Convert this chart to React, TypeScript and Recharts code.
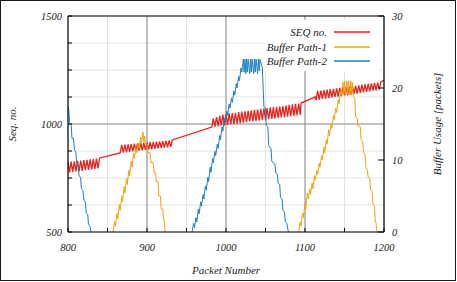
import React from "react";
import { LineChart, Line, XAxis, YAxis, CartesianGrid, Legend } from "recharts";

// packet number -> sequence number
const seqBand1 = [
  [800, 824], [802, 776], [804, 826], [806, 778], [808, 827], [810, 780], [812, 829],
  [814, 781], [816, 831], [818, 783], [820, 833], [822, 786], [824, 834], [826, 788],
  [828, 836], [830, 790], [832, 838], [834, 792], [836, 840], [838, 795], [840, 843],
];
const seqBand2 = [
  [866, 866], [868, 903], [870, 868], [872, 904], [874, 869], [876, 906], [878, 871],
  [880, 907], [882, 873], [884, 909], [886, 875], [888, 910], [890, 877], [892, 911],
  [894, 878], [896, 913], [898, 880], [900, 914], [902, 882], [904, 916], [906, 884],
  [908, 917], [910, 885], [912, 918], [914, 887], [916, 920], [918, 889], [920, 921],
  [922, 891], [924, 923], [926, 892], [928, 924], [930, 894], [932, 926],
];
const seqBand3 = [
  [982, 986], [984, 1025], [986, 988], [988, 1032], [990, 990], [992, 1038], [994, 992],
  [996, 1043], [998, 994], [1000, 1047], [1002, 996], [1004, 1049], [1006, 998],
  [1008, 1051], [1010, 1000], [1012, 1052], [1014, 1002], [1016, 1055], [1018, 1004],
  [1020, 1057], [1022, 1006], [1024, 1059], [1026, 1008], [1028, 1061], [1030, 1012],
  [1032, 1063], [1034, 1012], [1036, 1065], [1038, 1014], [1040, 1067], [1042, 1016],
  [1044, 1070], [1046, 1018], [1048, 1072], [1050, 1020], [1052, 1074], [1054, 1022],
  [1056, 1077], [1058, 1024], [1060, 1078], [1062, 1025], [1064, 1080], [1066, 1028],
  [1068, 1082], [1070, 1030], [1072, 1083], [1074, 1032], [1076, 1086], [1078, 1034],
  [1080, 1089], [1082, 1036], [1084, 1091], [1086, 1038], [1088, 1093], [1090, 1040],
  [1092, 1095], [1094, 1042], [1095, 1097],
];
const seqBand4 = [
  [1113, 1125], [1114, 1111], [1116, 1153], [1118, 1113], [1120, 1155], [1122, 1116],
  [1124, 1157], [1126, 1118], [1128, 1159], [1130, 1120], [1132, 1161], [1134, 1123],
  [1136, 1163], [1138, 1125], [1140, 1165], [1142, 1127], [1144, 1167], [1146, 1129],
  [1148, 1169], [1150, 1132], [1152, 1171], [1154, 1134], [1156, 1173], [1158, 1136],
  [1160, 1175], [1162, 1139], [1164, 1177], [1166, 1141], [1168, 1179], [1170, 1144],
  [1172, 1182], [1174, 1146], [1176, 1184], [1178, 1149], [1180, 1186], [1182, 1151],
  [1184, 1188], [1186, 1154], [1188, 1190], [1190, 1156], [1192, 1192], [1194, 1159],
  [1196, 1194], [1200, 1204],
];

// packet number -> buffer occupancy (packets)
const path1First = [
  [857, 0], [859, 1.5], [860, 0.8], [862, 2.6], [863, 1.8], [865, 3.8], [866, 3.0],
  [868, 5.0], [869, 4.2], [871, 6.3], [872, 5.4], [874, 7.4], [875, 6.6], [877, 8.6],
  [878, 7.8], [880, 9.8], [881, 9.0], [883, 10.9], [884, 10.2], [886, 11.7], [887, 11.0],
  [889, 12.3], [890, 11.6], [892, 13.2], [893, 12.4], [895, 13.9], [896, 12.5],
  [897, 13.3], [898, 12.2], [900, 12.2], [901, 11.0], [904, 11.0], [905, 9.6], [908, 9.6],
  [909, 8.2], [911, 8.2], [912, 7.0], [914, 7.0], [915, 5.0], [917, 5.0], [918, 3.2],
  [920, 3.2], [921, 1.6], [922, 1.6], [923, 0],
];
const path1Second = [
  [1092, 0], [1094, 1.4], [1095, 0.8], [1097, 2.6], [1098, 2.0], [1100, 4.0], [1101, 3.2],
  [1103, 5.4], [1104, 4.6], [1106, 6.0], [1107, 5.2], [1109, 6.8], [1110, 6.0],
  [1112, 7.8], [1113, 7.2], [1115, 8.6], [1116, 8.0], [1118, 9.6], [1119, 9.0],
  [1121, 10.6], [1122, 10.0], [1124, 11.8], [1125, 11.0], [1127, 12.8], [1128, 12.2],
  [1130, 14.2], [1131, 13.4], [1133, 15.0], [1134, 14.4], [1136, 16.2], [1137, 15.6],
  [1139, 17.2], [1140, 16.6], [1142, 18.4], [1143, 17.8], [1145, 19.6], [1146, 19.0],
  [1148, 20.8], [1149, 19.2], [1150, 21.0], [1151, 19.0], [1153, 21.0], [1154, 19.2],
  [1155, 21.0], [1157, 19.0], [1158, 21.0], [1159, 19.4], [1160, 20.8], [1161, 18.8],
  [1163, 18.6], [1164, 16.0], [1166, 15.8], [1167, 14.8], [1170, 14.6], [1171, 12.8],
  [1173, 12.6], [1174, 11.0], [1176, 10.8], [1177, 9.0], [1179, 8.6], [1180, 7.6],
  [1182, 7.4], [1183, 5.8], [1185, 5.6], [1186, 3.8], [1188, 3.6], [1189, 1.4],
  [1190, 1.2], [1191, 0],
];
const path2First = [
  [800, 17.5], [801, 17.0], [802, 15.2], [804, 15.0], [805, 13.0], [807, 13.0],
  [808, 11.5], [810, 11.0], [811, 9.5], [813, 9.2], [814, 7.8], [816, 7.6], [817, 6.0],
  [819, 5.8], [820, 4.4], [822, 4.2], [823, 2.6], [825, 2.4], [826, 1.0], [828, 0.8],
  [829, 0],
];
const path2Second = [
  [957, 0], [959, 1.2], [960, 0.6], [962, 2.0], [963, 1.4], [965, 3.2], [966, 2.5],
  [968, 4.2], [969, 3.6], [971, 5.2], [972, 4.6], [974, 6.4], [975, 5.8], [977, 7.6],
  [978, 7.0], [980, 9.0], [981, 8.3], [983, 10.2], [984, 9.6], [986, 11.2], [987, 10.6],
  [989, 12.2], [990, 11.6], [992, 13.4], [993, 12.8], [995, 14.6], [996, 14.0],
  [998, 15.8], [999, 15.2], [1001, 16.8], [1002, 16.2], [1004, 17.8], [1005, 17.2],
  [1007, 18.6], [1008, 18.0], [1010, 19.6], [1011, 19.0], [1013, 20.6], [1014, 20.0],
  [1016, 21.6], [1017, 21.0], [1019, 22.8], [1020, 22.2], [1022, 24.0], [1023, 22.2],
  [1024, 24.0], [1025, 22.0], [1026, 24.0], [1027, 22.2], [1028, 24.0], [1030, 22.0],
  [1031, 24.0], [1032, 22.2], [1033, 24.0], [1035, 22.0], [1036, 24.0], [1037, 22.2],
  [1038, 24.0], [1040, 22.0], [1041, 24.0], [1042, 22.4], [1043, 24.0], [1045, 23.2],
  [1046, 22.8], [1048, 17.4], [1050, 17.2], [1051, 14.8], [1053, 14.6], [1054, 12.0],
  [1057, 11.6], [1058, 9.8], [1062, 9.4], [1063, 8.2], [1065, 8.0], [1066, 6.8],
  [1068, 6.6], [1069, 4.8], [1071, 4.6], [1072, 3.0], [1074, 2.8], [1075, 1.4],
  [1077, 1.2], [1079, 0],
];

const seriesNames = ["SEQ no.", "Buffer Path-1", "Buffer Path-2"];
const xTicks = [
  800, 825, 850, 875, 900, 925, 950, 975, 1000, 1025, 1050, 1075, 1100, 1125, 1150, 1175, 1200,
];
const xLabels = [800, 900, 1000, 1100, 1200];
const seqTicks = [500, 625, 750, 875, 1000, 1125, 1250, 1375, 1500];
const seqLabels = [500, 1000, 1500];
const bufTicks = [0, 10, 20, 30];

const toRows = (pts: number[][]) => pts.map(([p, v]) => ({ p, v }));
const seqData = toRows([...seqBand1, ...seqBand2, ...seqBand3, ...seqBand4]);
const path1Data = [...toRows(path1First), { p: 1000, v: null }, ...toRows(path1Second)];
const path2Data = [...toRows(path2First), { p: 900, v: null }, ...toRows(path2Second)];

const FONT = "'Liberation Serif', 'DejaVu Serif', serif";
const txt = { fontFamily: FONT, fontStyle: "italic", fontSize: 10.5, fill: "#222" };

const XTick = (props: any) => {
  const { x, y, payload } = props;
  if (!xLabels.includes(payload.value)) return null;
  return (
    <text x={x} y={y} textAnchor="middle" dominantBaseline="central" style={txt}>
      {payload.value}
    </text>
  );
};

const SeqTick = (props: any) => {
  const { x, y, payload } = props;
  if (!seqLabels.includes(payload.value)) return null;
  return (
    <text x={x} y={y} textAnchor="end" dominantBaseline="central" style={txt}>
      {payload.value}
    </text>
  );
};

const BufTick = (props: any) => {
  const { x, y, payload } = props;
  return (
    <text x={x} y={y} textAnchor="start" dominantBaseline="central" style={txt}>
      {payload.value}
    </text>
  );
};

const titleStyle = { fontFamily: FONT, fontStyle: "italic", fontSize: 11, fill: "#222" };

const XTitle = (props: any) => {
  const vb = props.viewBox || {};
  const cx = vb.x + vb.width / 2;
  const cy = vb.y + 38;
  return (
    <text x={cx} y={cy} textAnchor="middle" dominantBaseline="central" style={titleStyle}>
      Packet Number
    </text>
  );
};

const makeYTitle = (label: string, dx: number) => (props: any) => {
  const vb = props.viewBox || {};
  const cx = vb.x + dx;
  const cy = vb.y + vb.height / 2;
  return (
    <text
      x={cx}
      y={cy}
      transform={`rotate(-90 ${cx} ${cy})`}
      textAnchor="middle"
      dominantBaseline="central"
      style={titleStyle}
    >
      {label}
    </text>
  );
};

const LegendBox = (props: any) => {
  const items = [...(props.payload || [])].sort(
    (a: any, b: any) => seriesNames.indexOf(a.value) - seriesNames.indexOf(b.value)
  );
  return (
    <div
      style={{
        background: "#fff",
        width: 115,
        padding: "5px 0 2px 0",
        fontFamily: FONT,
        fontStyle: "italic",
        fontSize: 11,
        color: "#222",
      }}
    >
      {items.map((it: any) => (
        <div key={it.value} style={{ display: "flex", alignItems: "center", height: 14.5 }}>
          <span style={{ width: 63, textAlign: "right", whiteSpace: "nowrap" }}>{it.value}</span>
          <svg width={36} height={4} style={{ marginLeft: 7 }}>
            <line x1={0} y1={2} x2={36} y2={2} stroke={it.color} strokeWidth={1.5} />
          </svg>
        </div>
      ))}
    </div>
  );
};

export default function App() {
  return (
    <div style={{ position: "fixed", left: 0, top: 0, width: 457, height: 282, background: "#fff" }}>
      <LineChart width={457} height={282} margin={{ top: 15, right: 0, bottom: 0, left: 0 }}>
        <CartesianGrid xAxisId="bottom" yAxisId="seq" stroke="#e3e3e3" />
        <CartesianGrid
          xAxisId="bottom"
          yAxisId="seq"
          stroke="#8e8e8e"
          verticalValues={[900, 1000, 1100]}
          horizontalValues={[1000]}
        />
        <XAxis
          xAxisId="bottom"
          dataKey="p"
          type="number"
          domain={[800, 1200]}
          ticks={xTicks}
          allowDataOverflow
          height={50}
          tickSize={-4}
          tickMargin={19}
          tick={XTick}
          axisLine={{ stroke: "#000", strokeWidth: 1.2 }}
          tickLine={{ stroke: "#000" }}
          label={{ content: XTitle }}
        />
        <XAxis
          xAxisId="top"
          orientation="top"
          dataKey="p"
          type="number"
          domain={[800, 1200]}
          ticks={xTicks}
          allowDataOverflow
          height={1}
          tickSize={-4}
          tick={false}
          axisLine={{ stroke: "#000", strokeWidth: 1.2 }}
          tickLine={{ stroke: "#000" }}
        />
        <YAxis
          yAxisId="seq"
          type="number"
          domain={[500, 1500]}
          ticks={seqTicks}
          allowDataOverflow
          width={68}
          tickSize={-4}
          tickMargin={10}
          tick={SeqTick}
          axisLine={{ stroke: "#000", strokeWidth: 1.2 }}
          tickLine={{ stroke: "#000" }}
          label={{ content: makeYTitle("Seq. no.", 12) }}
        />
        <YAxis
          yAxisId="buf"
          orientation="right"
          type="number"
          domain={[0, 30]}
          ticks={bufTicks}
          allowDataOverflow
          width={73}
          tickSize={-6}
          tickMargin={14}
          tick={BufTick}
          axisLine={{ stroke: "#000", strokeWidth: 1.2 }}
          tickLine={{ stroke: "#000" }}
          label={{ content: makeYTitle("Buffer Usage [packets]", 53) }}
        />
        <Legend
          layout="vertical"
          align="center"
          verticalAlign="middle"
          content={LegendBox}
          wrapperStyle={{ top: 20, left: 264, width: 115 }}
        />
        <Line
          xAxisId="bottom"
          yAxisId="seq"
          data={seqData}
          dataKey="v"
          name={seriesNames[0]}
          stroke="#e5221b"
          strokeWidth={1.3}
          dot={false}
          isAnimationActive={false}
        />
        <Line
          xAxisId="bottom"
          yAxisId="buf"
          data={path1Data}
          dataKey="v"
          name={seriesNames[1]}
          stroke="#efa40e"
          strokeWidth={1}
          dot={false}
          isAnimationActive={false}
        />
        <Line
          xAxisId="bottom"
          yAxisId="buf"
          data={path2Data}
          dataKey="v"
          name={seriesNames[2]}
          stroke="#1e80c1"
          strokeWidth={1}
          dot={false}
          isAnimationActive={false}
        />
      </LineChart>
      <div
        style={{
          position: "absolute",
          left: 0,
          top: 0,
          width: 456,
          height: 281,
          boxSizing: "border-box",
          border: "1.3px solid #1a1a1a",
          pointerEvents: "none",
        }}
      />
    </div>
  );
}
